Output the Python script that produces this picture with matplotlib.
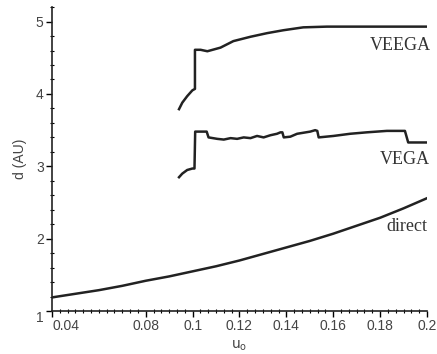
import matplotlib
matplotlib.use("Agg")
import matplotlib.pyplot as plt
from matplotlib.ticker import MultipleLocator

# direct transfer
direct_u = [0.04, 0.05, 0.06, 0.07, 0.08, 0.09, 0.10, 0.11, 0.12,
            0.13, 0.14, 0.15, 0.16, 0.17, 0.18, 0.19, 0.20]
direct_d = [1.19, 1.24, 1.29, 1.35, 1.42, 1.48, 1.55, 1.62, 1.70,
            1.79, 1.88, 1.97, 2.07, 2.18, 2.29, 2.42, 2.56]

# VEEGA
veega_u = [0.0942, 0.0956, 0.0977, 0.0999, 0.1010, 0.1010, 0.1034, 0.1063,
           0.1119, 0.1174, 0.1247, 0.1318, 0.1387, 0.1472, 0.1573, 0.2]
veega_d = [3.79, 3.88, 3.97, 4.05, 4.07, 4.61, 4.61, 4.59,
           4.64, 4.73, 4.79, 4.84, 4.88, 4.92, 4.93, 4.93]

# VEGA
vega_u = [0.0942, 0.0956, 0.0977, 0.0999, 0.1008, 0.1011, 0.1048, 0.1060,
          0.1068, 0.1105, 0.1133, 0.1162, 0.1190, 0.1218, 0.1247, 0.1275,
          0.1303, 0.1332, 0.1360, 0.1375, 0.1383, 0.1389, 0.1417, 0.1446,
          0.1502, 0.1523, 0.1532, 0.1538, 0.1601, 0.1672, 0.1743, 0.1829,
          0.1906, 0.1920, 0.2]
vega_d = [2.85, 2.90, 2.95, 2.97, 2.97, 3.48, 3.48, 3.48,
          3.40, 3.38, 3.37, 3.39, 3.38, 3.40, 3.39, 3.42,
          3.40, 3.43, 3.45, 3.47, 3.47, 3.40, 3.41, 3.45,
          3.48, 3.50, 3.49, 3.40, 3.42, 3.45, 3.47, 3.49,
          3.49, 3.33, 3.33]

x_ticks = [0.04, 0.08, 0.1, 0.12, 0.14, 0.16, 0.18, 0.2]
x_ticklabels = ['0.04', '0.08', '0.1', '0.12', '0.14', '0.16', '0.18', '0.2']
y_ticks = [1, 2, 3, 4, 5]

line_col = '#222222'
grey = '#444444'

fig = plt.figure(figsize=(4.37, 3.54), dpi=100)
ax = fig.add_axes([0.119, 0.121, 0.858, 0.859])

ax.plot(direct_u, direct_d, color=line_col, lw=1.8)
ax.plot(veega_u, veega_d, color=line_col, lw=1.8)
ax.plot(vega_u, vega_d, color=line_col, lw=1.8)

# curve names sit just under the right end of each curve
serif = dict(family='Liberation Serif', fontsize=13, color='#333333')
ax.text(0.2015, 4.67, 'VEEGA', ha='right', va='center', clip_on=False, **serif)
ax.text(0.2012, 3.09, 'VEGA', ha='right', va='center', clip_on=False, **serif)
ax.text(0.2, 2.17, 'direct', ha='right', va='center', **serif)

ax.set_xlim(0.04, 0.2)
ax.set_ylim(1.0, 5.2)

for s in ['top', 'right']:
    ax.spines[s].set_visible(False)
for s in ['left', 'bottom']:
    ax.spines[s].set_linewidth(1.2)
    ax.spines[s].set_color('#222222')

ax.set_xticks(x_ticks)
ax.set_xticklabels(x_ticklabels)
ax.set_yticks(y_ticks)
ax.xaxis.set_minor_locator(MultipleLocator(0.02 / 6))
ax.yaxis.set_minor_locator(MultipleLocator(0.2))
ax.tick_params(which='major', direction='out', length=4, width=1,
               labelsize=10, labelcolor=grey, pad=2)
ax.tick_params(which='minor', direction='inout', length=3, width=0.8)
for lab in ax.get_xticklabels() + ax.get_yticklabels():
    lab.set_family('Liberation Sans')
ax.get_xticklabels()[0].set_ha('left')
ax.get_yticklabels()[0].set_va('top')

ax.set_xlabel(r'$\mathregular{u_o}$', fontsize=10, color=grey, labelpad=4)
ax.set_ylabel('d (AU)', fontsize=10, color=grey, family='Liberation Sans',
              labelpad=6)

fig.savefig('out.png', dpi=100)
